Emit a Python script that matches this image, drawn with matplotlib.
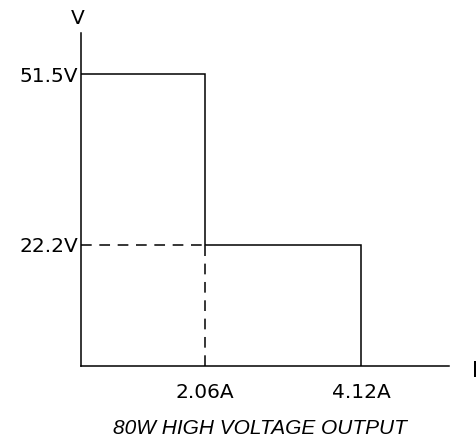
import numpy as np
import matplotlib.pyplot as plt

# operating points of the supply
current = [0, 2.06, 2.06, 4.12, 4.12]   # A
voltage = [51.5, 51.5, 22.2, 22.2, 0]    # V
x_ticks = [2.06, 4.12]
x_labels = ["2.06A", "4.12A"]
y_ticks = [22.2, 51.5]
y_labels = ["22.2V", "51.5V"]
title = "80W HIGH VOLTAGE OUTPUT"

# the drawing is not to scale, so map values piecewise onto the axes
x_map = ([0, 2.06, 4.12, 5.5], [0, 124, 280, 368])
y_map = ([0, 22.2, 51.5, 58.0], [0, 121, 292, 333])


def piecewise(m):
    src, dst = m
    fwd = lambda v: np.interp(v, src, dst)
    inv = lambda v: np.interp(v, dst, src)
    return fwd, inv


plt.rcParams['font.family'] = ['DejaVu Sans']

fig = plt.figure(figsize=(4.77, 4.44), dpi=100)
ax = fig.add_axes([81 / 477, 78 / 444, 368 / 477, 333 / 444])
ax.set_xscale('function', functions=piecewise(x_map))
ax.set_yscale('function', functions=piecewise(y_map))
ax.set_xlim(0, 5.5)
ax.set_ylim(0, 58.0)

lw = 1.1
ax.plot(current, voltage, color='black', lw=lw, solid_joinstyle='miter')
# dashed guide lines
ax.plot([0, current[1]], [voltage[2], voltage[2]], color='black', lw=lw, dashes=(7, 5))
ax.plot([current[1], current[1]], [0, voltage[2]], color='black', lw=lw, dashes=(7, 5))

for s in ['top', 'right']:
    ax.spines[s].set_visible(False)
for s in ['left', 'bottom']:
    ax.spines[s].set_linewidth(lw)

ax.set_xticks(x_ticks)
ax.set_xticklabels(x_labels)
ax.set_yticks(y_ticks)
ax.set_yticklabels(y_labels)
ax.tick_params(axis='x', length=0, pad=12, labelsize=14.5)
ax.tick_params(axis='y', length=0, pad=2, labelsize=14.5)
ax.minorticks_off()

fig.text(78 / 477, 1 - 18 / 444, "V", ha='center', va='center', fontsize=14.5)
fig.text(475 / 477, 1 - 371 / 444, "I", ha='center', va='center', fontsize=15)
fig.text(260 / 477, 1 - 428 / 444, title, ha='center', va='center',
         fontsize=15, style='italic', family='Liberation Sans')

fig.savefig("out.png", dpi=100)
